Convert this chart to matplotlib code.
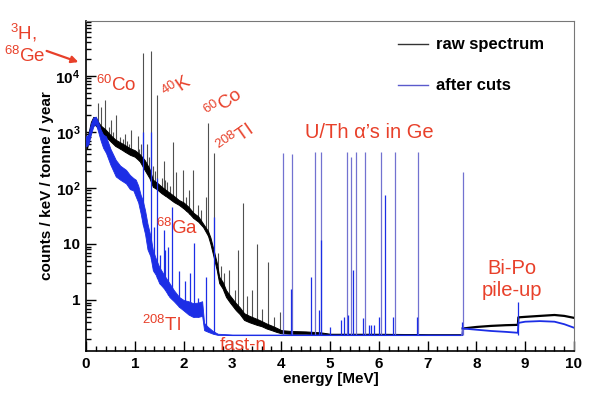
import numpy as np
import matplotlib
matplotlib.use("Agg")
from matplotlib import pyplot as plt
from matplotlib.ticker import MultipleLocator, FixedLocator, FixedFormatter, LogLocator, NullFormatter

plt.rcParams['font.family'] = ['Liberation Sans', 'DejaVu Sans']
plt.rcParams['mathtext.fontset'] = 'custom'
plt.rcParams['mathtext.rm'] = 'Liberation Sans'
plt.rcParams['mathtext.it'] = 'Liberation Sans:italic'
plt.rcParams['mathtext.bf'] = 'Liberation Sans:bold'

# raw spectrum continuum band (energy MeV, lower / upper edge of the noisy band)
raw_E = [0.02, 0.05, 0.1, 0.15, 0.2, 0.25, 0.3, 0.4, 0.5, 0.6, 0.7, 0.8, 0.9, 1.0, 1.1, 1.2,
         1.3, 1.37, 1.45, 1.55, 1.65, 1.8, 1.9, 2.0, 2.1, 2.2, 2.3, 2.4, 2.5, 2.55, 2.63, 2.68,
         2.73, 2.8, 2.87, 2.95, 3.07, 3.15, 3.24, 3.35, 3.5, 3.6, 3.7, 3.8, 3.9, 4.0, 4.2, 4.5,
         4.8, 5.0, 6.0, 7.0, 7.7]
raw_lo = [500, 650, 1050, 1350, 1300, 1150, 1000, 830, 680, 560, 500, 440, 390, 360, 300, 210,
          150, 105, 95, 80, 70, 56, 50, 43, 36, 29, 25, 20, 14, 10, 5.2, 3.4,
          2.0, 1.6, 1.13, 0.9, 0.66, 0.56, 0.44, 0.4, 0.36, 0.34, 0.31, 0.29, 0.27, 0.255, 0.25, 0.25,
          0.245, 0.24, 0.24, 0.238, 0.238]
raw_hi = [700, 950, 1500, 1850, 1800, 1500, 1300, 1100, 880, 730, 650, 580, 510, 470, 400, 316,
          220, 140, 125, 105, 90, 72, 61, 55, 46, 36, 31, 23, 17, 13, 6.9, 4.6,
          2.6, 2.1, 1.5, 1.2, 0.88, 0.74, 0.58, 0.52, 0.46, 0.42, 0.38, 0.35, 0.32, 0.29, 0.28, 0.275,
          0.265, 0.25, 0.25, 0.245, 0.245]

# after-cuts continuum band
cut_E = [0.0, 0.05, 0.1, 0.15, 0.2, 0.25, 0.3, 0.35, 0.41, 0.5, 0.61, 0.7, 0.82, 0.9, 0.97, 1.02,
         1.07, 1.12, 1.16, 1.21, 1.26, 1.32, 1.37, 1.43, 1.5, 1.6, 1.71, 1.8, 1.91, 2.0, 2.1, 2.19,
         2.3, 2.38, 2.42, 2.5, 2.6, 2.7, 3.0, 7.7]
cut_lo = [550, 600, 900, 1250, 1400, 1000, 700, 520, 420, 260, 160, 140, 120, 95, 90, 70,
          55, 35, 23, 15, 8, 6, 3.4, 2.8, 2.0, 1.6, 1.13, 0.95, 0.75, 0.65, 0.55, 0.5,
          0.5, 0.52, 0.29, 0.27, 0.25, 0.238, 0.236, 0.236]
cut_hi = [830, 900, 1400, 1800, 1870, 1500, 1100, 900, 830, 500, 316, 250, 210, 170, 150, 140,
          110, 75, 61, 40, 23, 14, 7.8, 5.5, 3.9, 2.8, 2.0, 1.5, 1.13, 1.0, 0.95, 0.88,
          0.9, 0.95, 0.39, 0.33, 0.28, 0.25, 0.242, 0.242]

# above 7.7 MeV (Bi-Po pile-up region)
pile_E = [7.72, 8.0, 8.3, 8.6, 8.85, 8.86, 9.0, 9.3, 9.6, 9.8, 10.0]
pile_raw = [0.31, 0.33, 0.345, 0.355, 0.36, 0.49, 0.5, 0.52, 0.54, 0.52, 0.48]
pile_cut = [0.31, 0.295, 0.28, 0.27, 0.26, 0.39, 0.41, 0.42, 0.41, 0.37, 0.32]

# gamma lines in the raw spectrum
raw_peak_E = [0.24, 0.31, 0.38, 0.47, 0.51, 0.55, 0.61, 0.70, 0.75, 0.80, 0.85, 0.88, 0.92,
              1.06, 1.09, 1.12, 1.17, 1.24, 1.29, 1.33, 1.38, 1.41, 1.46, 1.55, 1.59, 1.62,
              1.67, 1.73, 1.78, 1.85, 1.98, 2.05, 2.12, 2.20, 2.29, 2.35, 2.45, 2.505, 2.614,
              2.70, 2.76, 2.83, 2.93, 3.05, 3.11, 3.21, 3.3, 3.4, 3.50, 3.6, 3.73, 3.85, 3.97]
raw_peak_h = [3240, 2830, 3700, 1200, 1640, 1000, 2000, 800, 750, 900, 700, 600, 1090,
              830, 500, 600, 26000, 600, 350, 28000, 250, 200, 4500, 150, 300, 140,
              130, 110, 670, 190, 210, 70, 92, 210, 50, 40, 70, 1450, 415,
              7, 4, 3, 3.4, 1.5, 7.8, 54, 1.2, 1.5, 10, 0.7, 4.8, 0.5, 0.6]

# lines surviving the cuts
cut_peak_E = [1.17, 1.33, 1.40, 1.46, 1.52, 1.59, 1.62, 1.69, 1.76, 1.91, 2.02, 2.13, 2.22,
              2.30, 2.46, 2.614, 4.21, 4.62, 4.78, 4.81, 5.01, 5.22, 5.29, 5.36, 5.48, 5.68,
              5.80, 5.85, 5.90, 6.00, 6.13, 6.30, 6.78, 7.70, 8.85]
cut_peak_h = [1000, 1000, 20, 150, 6.4, 18, 7.8, 9, 46, 3.3, 2.2, 3, 10.3,
              1.1, 2.6, 30, 1.6, 2.6, 0.66, 12, 0.33, 0.44, 0.5, 0.54, 3.4, 0.47,
              0.36, 0.36, 0.36, 0.5, 75, 0.5, 0.5, 0.41, 0.93]

# alpha lines in Ge
alpha_E = [4.03, 4.23, 4.70, 4.81, 5.34, 5.44, 5.53, 5.72, 6.05, 6.33, 6.81, 7.72]
alpha_h = [420, 410, 430, 430, 430, 360, 430, 430, 430, 430, 430, 195]

red = '#e8402a'
blue = '#1c2ee6'

fig = plt.figure(figsize=(5.98, 3.98), dpi=100)
ax = fig.add_axes([86/598, 1-351/398, 488/598, 330/398])
ax.set_yscale('log')
ax.set_xlim(0, 10)
ax.set_ylim(0.123, 9.5e4)

base = np.interp(raw_peak_E, raw_E, raw_lo)
ax.vlines(raw_peak_E, base, raw_peak_h, color='#505050', lw=0.8, zorder=2)
ax.fill_between(raw_E, raw_lo, raw_hi, color='black', lw=0.7, zorder=3)
ax.plot(pile_E, pile_raw, color='black', lw=1.6, zorder=3)

base = np.interp(alpha_E, cut_E, cut_lo)
ax.vlines(alpha_E, base, alpha_h, color='#7272d0', lw=0.9, zorder=4)
base = np.interp(cut_peak_E, cut_E, cut_lo)
ax.vlines(cut_peak_E, base, cut_peak_h, color=blue, lw=0.9, zorder=4)
ax.fill_between(cut_E, cut_lo, cut_hi, color=blue, lw=0.6, zorder=5)
ax.plot([7.7, 7.72], [0.238, 0.31], color='#6a6ad0', lw=1, zorder=5)
ax.plot(pile_E, pile_cut, color=blue, lw=1.3, zorder=5)

# axes style
ax.tick_params(which='both', direction='in', top=False, right=False, width=1)
ax.tick_params(which='major', length=7, labelsize=11, pad=4)
ax.tick_params(which='minor', length=3.5)
ax.xaxis.set_major_locator(MultipleLocator(1))
ax.xaxis.set_minor_locator(MultipleLocator(0.2))
for lab in ax.get_xticklabels():
    lab.set_fontweight('bold')
yt = [1, 10, 100, 1000, 10000]
ax.yaxis.set_major_locator(FixedLocator(yt))
ax.yaxis.set_major_formatter(FixedFormatter(['1', '10', r'$\mathbf{10^{2}}$', r'$\mathbf{10^{3}}$', r'$\mathbf{10^{4}}$']))
ax.yaxis.set_minor_locator(LogLocator(base=10, subs=np.arange(2, 10), numticks=20))
ax.yaxis.set_minor_formatter(NullFormatter())
for lab in ax.get_yticklabels():
    lab.set_fontweight('bold')
for s in ['left', 'bottom']:
    ax.spines[s].set_linewidth(1.2)
for s in ['top', 'right']:
    ax.spines[s].set_color('#777777')

fig.text(331/598, 1-379/398, 'energy [MeV]', ha='center', va='center', fontsize=11, fontweight='bold')
fig.text(47/598, 1-186/398, 'counts / keV / tonne / year', ha='center', va='center', rotation=90,
         fontsize=11, fontweight='bold')

# legend
ax.plot([0.639, 0.701], [0.930, 0.930], transform=ax.transAxes, color='#333333', lw=1)
ax.text(0.717, 0.930, 'raw spectrum', transform=ax.transAxes, va='center', fontsize=12, fontweight='bold')
ax.plot([0.639, 0.701], [0.806, 0.806], transform=ax.transAxes, color='#5a5acc', lw=1)
ax.text(0.717, 0.806, 'after cuts', transform=ax.transAxes, va='center', fontsize=12, fontweight='bold')

# annotations
def ftext(x, y, s, size=13.5, **kw):
    fig.text(x/598, 1-y/398, s, color=red, fontsize=size, **kw)

ftext(10, 33, r'$^{3}$H,', ha='left', va='center')
ftext(4, 56, r'$^{68}$Ge', ha='left', va='center')
ax.annotate('', xy=(81, 398-63), xytext=(44, 398-50), xycoords='figure pixels',
            textcoords='figure pixels', arrowprops=dict(arrowstyle='-|>', color=red, lw=1.6))
ftext(96, 85, r'$^{60}$Co', ha='left', va='center')
ftext(177, 88, r'$^{40}$K', ha='center', va='center', rotation=35)
ftext(224, 104, r'$^{60}$Co', ha='center', va='center', rotation=35)
ftext(235, 139, r'$^{208}$Tl', ha='center', va='center', rotation=35)
ftext(305, 133, 'U/Th α’s in Ge', size=14.5, ha='left', va='center')
ftext(156, 228, r'$^{68}$Ga', ha='left', va='center')
ftext(142, 325, r'$^{208}$Tl', ha='left', va='center')
ftext(220, 345, 'fast-n', ha='left', va='center')
ftext(512, 268, 'Bi-Po', size=14.5, ha='center', va='center')
ftext(512, 290, 'pile-up', size=14.5, ha='center', va='center')

fig.savefig('out.png', dpi=100)
